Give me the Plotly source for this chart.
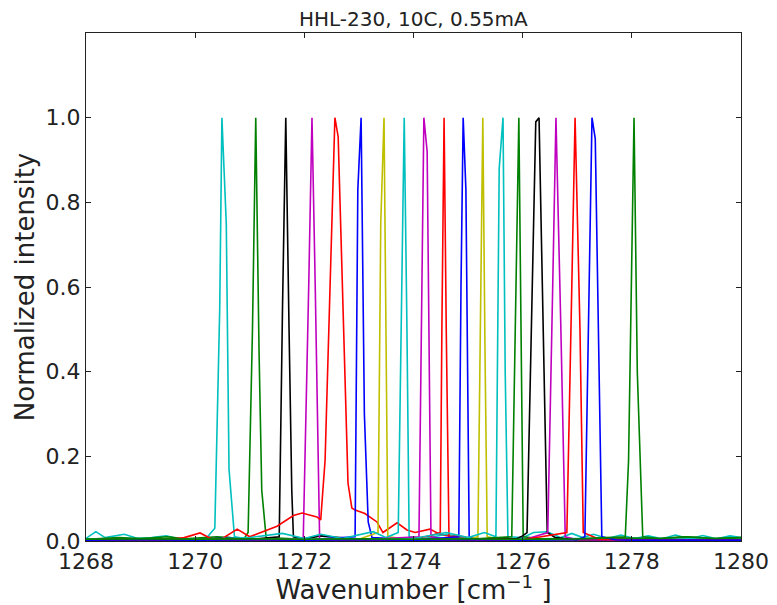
import plotly.graph_objects as go

# ---- data ----
c01_x = [1268.0, 1268.18, 1268.35, 1268.7, 1268.95, 1269.2, 1269.47, 1269.7, 1270.0, 1270.2, 1270.36, 1270.45, 1270.49, 1270.57, 1270.62, 1270.72, 1271.0, 1271.6, 1272.2, 1273.0, 1274.0, 1275.0, 1276.0, 1277.0, 1278.0, 1279.0, 1280.0]
c01_y = [0.006, 0.022, 0.008, 0.016, 0.006, 0.008, 0.012, 0.005, 0.004, 0.006, 0.03, 0.55, 1.0, 0.75, 0.17, 0.01, 0.004, 0.005, 0.003, 0.004, 0.003, 0.004, 0.003, 0.004, 0.003, 0.004, 0.003]

g02_x = [1268.0, 1268.6, 1269.0, 1269.5, 1269.8, 1270.4, 1270.9, 1270.97, 1271.05, 1271.11, 1271.17, 1271.22, 1271.3, 1272.0, 1273.0, 1274.0, 1275.0, 1276.0, 1277.0, 1278.0, 1279.0, 1280.0]
g02_y = [0.004, 0.008, 0.006, 0.01, 0.005, 0.01, 0.006, 0.02, 0.5, 1.0, 0.45, 0.12, 0.008, 0.004, 0.003, 0.004, 0.003, 0.005, 0.003, 0.006, 0.004, 0.005]

k03_x = [1268.0, 1269.0, 1270.0, 1270.6, 1271.0, 1271.54, 1271.6, 1271.66, 1271.72, 1271.77, 1271.8, 1272.0, 1272.3, 1273.0, 1274.0, 1275.0, 1276.0, 1277.0, 1278.0, 1280.0]
k03_y = [0.003, 0.004, 0.003, 0.008, 0.004, 0.01, 0.55, 1.0, 0.5, 0.12, 0.01, 0.005, 0.012, 0.004, 0.003, 0.004, 0.003, 0.004, 0.003, 0.003]

m04_x = [1268.0, 1269.0, 1270.0, 1271.0, 1271.6, 1271.98, 1272.08, 1272.14, 1272.2, 1272.28, 1272.5, 1273.0, 1274.0, 1275.0, 1276.0, 1277.0, 1278.0, 1280.0]
m04_y = [0.002, 0.003, 0.002, 0.003, 0.004, 0.005, 0.6, 1.0, 0.6, 0.005, 0.003, 0.002, 0.003, 0.002, 0.003, 0.002, 0.003, 0.002]

r05_x = [1268.0, 1268.5, 1269.0, 1269.5, 1269.8, 1270.09, 1270.3, 1270.5, 1270.77, 1271.0, 1271.2, 1271.5, 1271.8, 1271.96, 1272.23, 1272.3, 1272.38, 1272.56, 1272.62, 1272.8, 1272.87, 1272.93, 1273.11, 1273.33, 1273.44, 1273.7, 1273.88, 1274.03, 1274.3, 1274.5, 1275.0, 1276.0, 1277.0, 1278.0, 1279.0, 1280.0]
r05_y = [0.003, 0.004, 0.005, 0.003, 0.008, 0.019, 0.005, 0.006, 0.028, 0.01, 0.02, 0.035, 0.06, 0.066, 0.057, 0.05, 0.19, 1.0, 0.955, 0.137, 0.078, 0.073, 0.065, 0.045, 0.02, 0.043, 0.026, 0.02, 0.028, 0.015, 0.005, 0.004, 0.003, 0.003, 0.004, 0.003]

b06_x = [1268.0, 1269.0, 1270.0, 1271.0, 1272.0, 1272.93, 1272.98, 1273.04, 1273.1, 1273.17, 1273.24, 1274.0, 1275.0, 1276.0, 1277.0, 1278.0, 1280.0]
b06_y = [0.003, 0.002, 0.003, 0.002, 0.003, 0.01, 0.83, 1.0, 0.3, 0.045, 0.008, 0.003, 0.002, 0.003, 0.002, 0.003, 0.002]

y07_x = [1268.0, 1269.0, 1270.0, 1271.0, 1272.0, 1273.0, 1273.35, 1273.4, 1273.46, 1273.5, 1273.53, 1274.0, 1275.0, 1276.0, 1277.0, 1280.0]
y07_y = [0.002, 0.003, 0.002, 0.003, 0.002, 0.004, 0.02, 0.75, 1.0, 0.45, 0.01, 0.003, 0.002, 0.003, 0.002, 0.002]

c08_x = [1268.0, 1269.0, 1270.0, 1271.0, 1271.6, 1272.0, 1272.3, 1272.7, 1273.26, 1273.5, 1273.72, 1273.78, 1273.83, 1273.88, 1273.92, 1274.2, 1274.6, 1275.0, 1276.0, 1277.0, 1278.0, 1280.0]
c08_y = [0.004, 0.006, 0.004, 0.008, 0.018, 0.006, 0.016, 0.006, 0.022, 0.008, 0.02, 0.6, 1.0, 0.5, 0.01, 0.006, 0.016, 0.006, 0.005, 0.006, 0.004, 0.005]

m09_x = [1268.0, 1269.0, 1270.0, 1271.0, 1272.0, 1273.0, 1274.1, 1274.15, 1274.19, 1274.25, 1274.32, 1274.6, 1275.0, 1276.0, 1277.0, 1280.0]
m09_y = [0.002, 0.003, 0.002, 0.003, 0.002, 0.003, 0.01, 0.6, 1.0, 0.92, 0.01, 0.004, 0.002, 0.003, 0.002, 0.002]

r10_x = [1268.0, 1269.0, 1270.0, 1271.0, 1272.0, 1273.0, 1274.0, 1274.3, 1274.49, 1274.52, 1274.56, 1274.6, 1274.65, 1274.8, 1275.1, 1275.5, 1276.0, 1277.0, 1278.0, 1280.0]
r10_y = [0.003, 0.004, 0.003, 0.004, 0.003, 0.004, 0.006, 0.012, 0.02, 0.5, 1.0, 0.5, 0.01, 0.012, 0.006, 0.004, 0.003, 0.004, 0.003, 0.003]

b11_x = [1268.0, 1269.0, 1270.0, 1271.0, 1272.0, 1273.0, 1274.0, 1274.83, 1274.87, 1274.91, 1274.96, 1275.02, 1275.3, 1276.0, 1277.0, 1280.0]
b11_y = [0.002, 0.003, 0.002, 0.003, 0.002, 0.003, 0.002, 0.01, 0.6, 1.0, 0.83, 0.01, 0.003, 0.002, 0.003, 0.002]

y12_x = [1268.0, 1269.0, 1270.0, 1271.0, 1272.0, 1273.0, 1274.0, 1275.0, 1275.18, 1275.23, 1275.27, 1275.31, 1275.35, 1275.6, 1276.0, 1277.0, 1280.0]
y12_y = [0.002, 0.003, 0.002, 0.003, 0.002, 0.003, 0.002, 0.004, 0.01, 0.55, 1.0, 0.45, 0.01, 0.004, 0.002, 0.003, 0.002]

c13_x = [1268.0, 1269.0, 1270.0, 1271.0, 1272.0, 1273.0, 1274.0, 1274.6, 1275.0, 1275.3, 1275.51, 1275.57, 1275.64, 1275.68, 1275.73, 1276.0, 1276.2, 1276.45, 1276.7, 1276.9, 1277.1, 1277.3, 1277.55, 1277.8, 1278.05, 1278.3, 1278.55, 1278.8, 1279.05, 1279.3, 1279.55, 1279.8, 1280.0]
c13_y = [0.004, 0.005, 0.004, 0.005, 0.004, 0.005, 0.006, 0.02, 0.008, 0.02, 0.01, 0.88, 1.0, 0.4, 0.01, 0.008, 0.02, 0.022, 0.008, 0.018, 0.008, 0.016, 0.006, 0.014, 0.006, 0.012, 0.005, 0.014, 0.005, 0.013, 0.005, 0.012, 0.008]

g14_x = [1268.0, 1269.0, 1270.0, 1271.0, 1272.0, 1273.0, 1274.0, 1275.0, 1275.8, 1275.87, 1275.93, 1275.97, 1276.01, 1276.3, 1277.0, 1277.5, 1278.5, 1279.0, 1279.5, 1280.0]
g14_y = [0.004, 0.006, 0.004, 0.005, 0.003, 0.004, 0.003, 0.004, 0.01, 0.6, 1.0, 0.5, 0.01, 0.006, 0.004, 0.008, 0.006, 0.01, 0.006, 0.008]

k15_x = [1268.0, 1269.0, 1270.0, 1271.0, 1272.0, 1273.0, 1274.0, 1275.0, 1275.9, 1276.0, 1276.08, 1276.24, 1276.3, 1276.45, 1276.6, 1277.0, 1278.0, 1280.0]
k15_y = [0.002, 0.003, 0.002, 0.003, 0.002, 0.003, 0.002, 0.003, 0.006, 0.012, 0.02, 0.99, 1.0, 0.02, 0.008, 0.003, 0.002, 0.002]

m16_x = [1268.0, 1269.0, 1270.0, 1271.0, 1272.0, 1273.0, 1274.0, 1275.0, 1276.0, 1276.46, 1276.55, 1276.61, 1276.7, 1276.78, 1277.0, 1278.0, 1280.0]
m16_y = [0.002, 0.003, 0.002, 0.003, 0.002, 0.003, 0.002, 0.003, 0.002, 0.02, 0.6, 1.0, 0.5, 0.01, 0.003, 0.002, 0.002]

r17_x = [1268.0, 1269.0, 1270.0, 1271.0, 1272.0, 1273.0, 1274.0, 1275.0, 1276.0, 1276.81, 1276.9, 1276.96, 1277.05, 1277.11, 1277.4, 1278.0, 1280.0]
r17_y = [0.003, 0.004, 0.003, 0.004, 0.003, 0.004, 0.003, 0.004, 0.003, 0.02, 0.6, 1.0, 0.5, 0.02, 0.004, 0.003, 0.003]

b18_x = [1268.0, 1269.0, 1270.0, 1271.0, 1272.0, 1273.0, 1274.0, 1275.0, 1276.0, 1277.0, 1277.14, 1277.22, 1277.27, 1277.33, 1277.45, 1277.7, 1278.0, 1280.0]
b18_y = [0.002, 0.003, 0.002, 0.003, 0.002, 0.003, 0.002, 0.003, 0.002, 0.003, 0.01, 0.6, 1.0, 0.95, 0.01, 0.003, 0.002, 0.002]

g19_x = [1268.0, 1269.0, 1270.0, 1271.0, 1272.0, 1273.0, 1274.0, 1275.0, 1276.0, 1277.0, 1277.6, 1277.88, 1277.94, 1278.04, 1278.1, 1278.2, 1278.5, 1279.0, 1279.5, 1280.0]
g19_y = [0.004, 0.005, 0.004, 0.005, 0.004, 0.005, 0.004, 0.005, 0.004, 0.005, 0.008, 0.01, 0.19, 1.0, 0.4, 0.01, 0.006, 0.01, 0.006, 0.008]

series_x = [c01_x, g02_x, k03_x, m04_x, r05_x, b06_x, y07_x, c08_x, m09_x, r10_x,
            b11_x, y12_x, c13_x, g14_x, k15_x, m16_x, r17_x, b18_x, g19_x]
series_y = [c01_y, g02_y, k03_y, m04_y, r05_y, b06_y, y07_y, c08_y, m09_y, r10_y,
            b11_y, y12_y, c13_y, g14_y, k15_y, m16_y, r17_y, b18_y, g19_y]
series_colors = ["c", "g", "k", "m", "r", "b", "y", "c", "m", "r",
                 "b", "y", "c", "g", "k", "m", "r", "b", "g"]

x_ticks = [1268, 1270, 1272, 1274, 1276, 1278, 1280]
y_ticks = [0.0, 0.2, 0.4, 0.6, 0.8, 1.0]
title_text = "HHL-230, 10C, 0.55mA"
x_title = "Wavenumber [cm<sup>\u22121</sup> ]"
y_title = "Normalized intensity"

palette = {"b": "#0000ff", "g": "#008000", "r": "#ff0000", "c": "#00bfbf",
           "m": "#bf00bf", "y": "#bfbf00", "k": "#000000"}

fig = go.Figure()
for xs, ys, col in zip(series_x, series_y, series_colors):
    fig.add_trace(go.Scatter(x=xs, y=ys, mode="lines",
                             line=dict(color=palette[col], width=1.6),
                             showlegend=False, hoverinfo="skip"))

axis_common = dict(showline=True, linecolor="#222222", linewidth=1.3, mirror="ticks",
                   ticks="inside", ticklen=5, tickwidth=1, tickcolor="#222222",
                   showgrid=False, zeroline=False, automargin=False,
                   tickfont=dict(family="DejaVu Sans", size=22, color="#222222"))

fig.update_layout(
    width=777, height=605,
    margin=dict(l=86, r=36, t=33, b=64),
    paper_bgcolor="white", plot_bgcolor="white",
    title=dict(text=title_text, x=0.532, xanchor="center", y=0.968, yanchor="middle",
               font=dict(family="DejaVu Sans", size=20, color="#222222")),
    xaxis=dict(range=[1268, 1280], tickvals=x_ticks, ticktext=[str(t) for t in x_ticks],
               title=dict(text=x_title, standoff=2,
                          font=dict(family="DejaVu Sans", size=26, color="#222222")),
               **axis_common),
    yaxis=dict(range=[0, 1.2], tickvals=y_ticks, ticktext=[f"{t:.1f}" for t in y_ticks],
               title=dict(text=y_title, standoff=3,
                          font=dict(family="DejaVu Sans", size=26, color="#222222")),
               **axis_common),
)

fig.write_html("out.html")
